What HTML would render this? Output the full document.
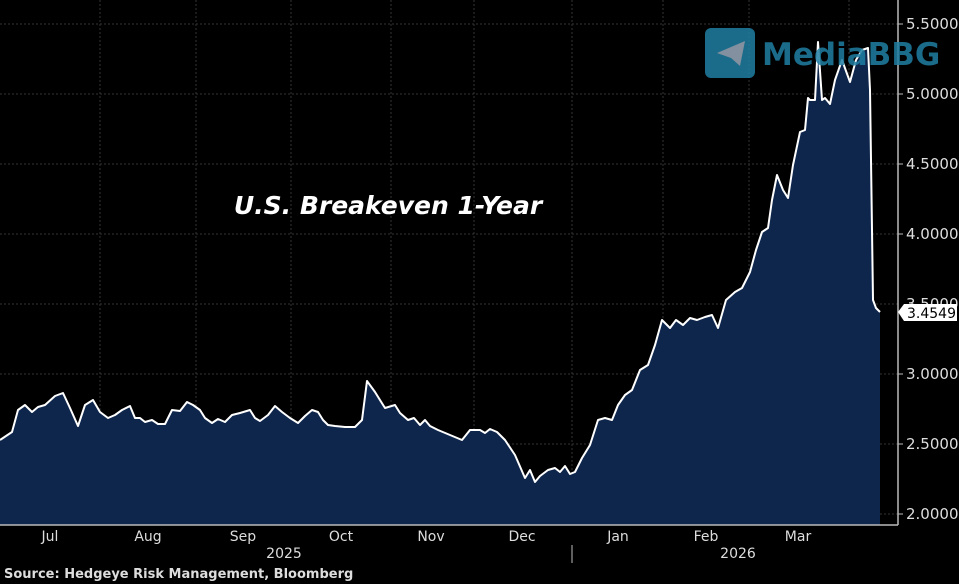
<!DOCTYPE html>
<html><head><meta charset="utf-8"><style>
html,body{margin:0;padding:0;background:#000;}
svg{display:block;}
text{font-family:"DejaVu Sans","Liberation Sans",sans-serif;}
</style></head><body>
<svg width="959" height="584" viewBox="0 0 959 584" xmlns="http://www.w3.org/2000/svg">
<rect width="959" height="584" fill="#000"/>
<g stroke="#333" stroke-width="1" stroke-dasharray="2,2">
<line x1="0" y1="24" x2="898" y2="24"/><line x1="0" y1="94" x2="898" y2="94"/><line x1="0" y1="164" x2="898" y2="164"/><line x1="0" y1="234" x2="898" y2="234"/><line x1="0" y1="304" x2="898" y2="304"/><line x1="0" y1="374" x2="898" y2="374"/><line x1="0" y1="444" x2="898" y2="444"/><line x1="0" y1="514" x2="898" y2="514"/>
<line x1="100" y1="0" x2="100" y2="525"/><line x1="196" y1="0" x2="196" y2="525"/><line x1="291" y1="0" x2="291" y2="525"/><line x1="391" y1="0" x2="391" y2="525"/><line x1="474" y1="0" x2="474" y2="525"/><line x1="572" y1="0" x2="572" y2="525"/><line x1="663" y1="0" x2="663" y2="525"/><line x1="749" y1="0" x2="749" y2="525"/><line x1="849" y1="0" x2="849" y2="525"/>
</g>
<polygon fill="#0e264c" points="0,525 0,440 12,432 18,410 25,405 32,412 38,407 45,405 55,396 63,393 70,408 78,426 85,405 93,400 100,412 108,418 115,415 122,410 130,406 135,418 140,418 145,422 152,420 158,424 165,424 172,410 180,411 187,402 193,405 200,410 205,418 212,423 218,419 225,422 232,415 240,413 250,410 255,418 260,421 268,415 275,406 282,412 290,418 298,423 305,416 312,410 318,412 323,420 328,425 335,426 345,427 355,427 362,420 367,381 375,392 385,408 395,405 400,413 408,420 414,418 420,425 425,420 430,426 438,430 450,435 462,440 470,430 480,430 485,433 490,429 497,432 505,440 515,455 525,478 530,470 535,482 540,476 548,470 555,468 560,472 565,466 570,474 575,472 582,458 590,445 598,420 605,418 612,420 618,405 625,395 632,390 640,370 648,365 655,345 662,320 670,328 676,320 683,325 690,318 697,320 705,317 712,315 718,328 726,300 735,292 742,288 750,272 756,250 762,232 768,228 772,200 777,175 783,190 788,198 793,165 800,132 805,130 808,98 810,100 815,100 818,42 822,100 825,98 830,104 835,80 842,60 850,82 856,60 862,50 868,48 870,90 873,300 876,308 880,312 880,525"/>
<polyline fill="none" stroke="#fff" stroke-width="2" stroke-linejoin="round" points="0,440 12,432 18,410 25,405 32,412 38,407 45,405 55,396 63,393 70,408 78,426 85,405 93,400 100,412 108,418 115,415 122,410 130,406 135,418 140,418 145,422 152,420 158,424 165,424 172,410 180,411 187,402 193,405 200,410 205,418 212,423 218,419 225,422 232,415 240,413 250,410 255,418 260,421 268,415 275,406 282,412 290,418 298,423 305,416 312,410 318,412 323,420 328,425 335,426 345,427 355,427 362,420 367,381 375,392 385,408 395,405 400,413 408,420 414,418 420,425 425,420 430,426 438,430 450,435 462,440 470,430 480,430 485,433 490,429 497,432 505,440 515,455 525,478 530,470 535,482 540,476 548,470 555,468 560,472 565,466 570,474 575,472 582,458 590,445 598,420 605,418 612,420 618,405 625,395 632,390 640,370 648,365 655,345 662,320 670,328 676,320 683,325 690,318 697,320 705,317 712,315 718,328 726,300 735,292 742,288 750,272 756,250 762,232 768,228 772,200 777,175 783,190 788,198 793,165 800,132 805,130 808,98 810,100 815,100 818,42 822,100 825,98 830,104 835,80 842,60 850,82 856,60 862,50 868,48 870,90 873,300 876,308 880,312"/>
<line x1="0" y1="525" x2="898" y2="525" stroke="#bbb" stroke-width="1.5"/>
<line x1="898" y1="0" x2="898" y2="525" stroke="#bbb" stroke-width="1.5"/>
<g stroke="#bbb"><line x1="898" y1="24" x2="903" y2="24"/><line x1="898" y1="94" x2="903" y2="94"/><line x1="898" y1="164" x2="903" y2="164"/><line x1="898" y1="234" x2="903" y2="234"/><line x1="898" y1="374" x2="903" y2="374"/><line x1="898" y1="444" x2="903" y2="444"/><line x1="898" y1="514" x2="903" y2="514"/>
<line x1="572" y1="545" x2="572" y2="563"/></g>
<g fill="#ddd" font-size="15">
<text x="906" y="29">5.5000</text><text x="906" y="99">5.0000</text><text x="906" y="169">4.5000</text><text x="906" y="239">4.0000</text><text x="906" y="309">3.5000</text><text x="906" y="379">3.0000</text><text x="906" y="449">2.5000</text><text x="906" y="519">2.0000</text>
</g>
<path d="M898,312 L904,304 H957 V321 H904 Z" fill="#fff"/>
<text x="907" y="318" font-size="14" fill="#000">3.4549</text>
<g fill="#ddd" font-size="14" text-anchor="middle">
<text x="50" y="541">Jul</text><text x="148" y="541">Aug</text><text x="243" y="541">Sep</text><text x="341" y="541">Oct</text><text x="431" y="541">Nov</text><text x="522" y="541">Dec</text><text x="618" y="541">Jan</text><text x="706" y="541">Feb</text><text x="798" y="541">Mar</text>
<text x="284" y="558">2025</text><text x="738" y="558">2026</text>
</g>
<text x="4" y="578" fill="#ddd" font-size="13" font-weight="bold">Source: Hedgeye Risk Management, Bloomberg</text>
<text x="388" y="214" fill="#fff" font-size="25" font-weight="bold" font-style="italic" text-anchor="middle" font-family="Liberation Sans, sans-serif">U.S. Breakeven 1-Year</text>
<g opacity="0.85">
<rect x="705" y="28" width="50" height="50" rx="6" fill="#1f7fa3"/>
<path d="M717,53 L745,41 L740,66 L731,58 Z" fill="#9ab"/>
<text x="762" y="65" font-size="31" font-weight="bold" fill="#1f7fa3" font-family="Liberation Sans, sans-serif">MediaBBG</text>
</g>
</svg>
</body></html>
